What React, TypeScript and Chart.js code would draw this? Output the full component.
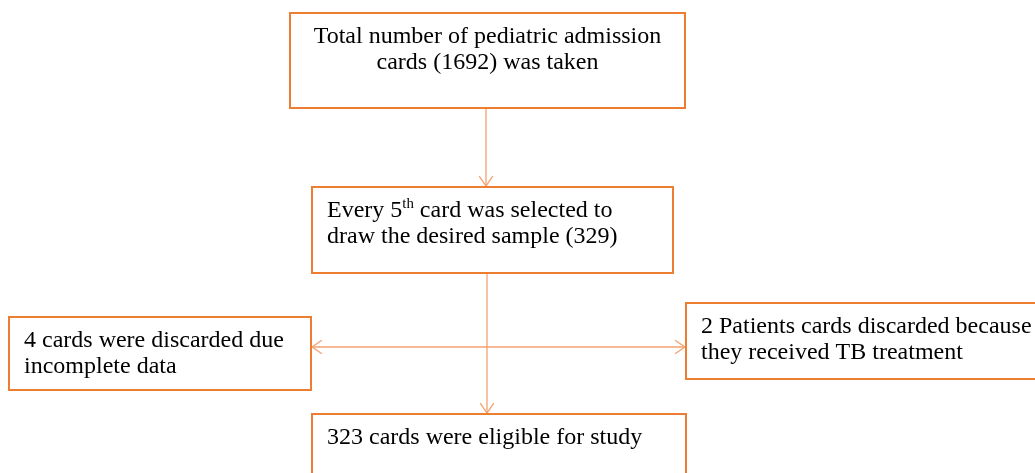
import React, { useEffect, useRef } from "react";
import { Chart, registerables } from "chart.js";

Chart.register(...registerables);

// Flowchart nodes (in chart units: x 0..1035, y 0..473 top-down)
const nodeNames = ["total", "every5", "discardLeft", "discardRight", "eligible"];
const nodeLeft = [290, 312, 9, 686, 312];
const nodeTop = [13, 187, 317, 303, 414];
const nodeRight = [685, 673, 311, 1045, 686];
const nodeBottom = [108, 273, 390, 379, 490];
const nodeAlign = ["center", "left", "left", "left", "left"];
const nodeLines: string[][] = [
  ["Total number of pediatric admission", "cards (1692) was taken"],
  ["Every 5^{th} card was selected to", "draw the desired sample (329)"],
  ["4 cards were discarded due", "incomplete data"],
  ["2 Patients cards discarded because", "they received TB treatment"],
  ["323 cards were eligible for study"],
];

// Connectors
const arrowX1 = [486, 487, 312];
const arrowY1 = [108, 273, 347];
const arrowX2 = [486, 487, 685];
const arrowY2 = [186, 413, 347];
const arrowStartHead = [false, false, true];
const arrowEndHead = [true, true, true];

const BOX_COLOR = "#ED7D31";
const ARROW_COLOR = "#F3A270";
const FONT_SIZE = 24;
const FONT_FAMILY = "'Liberation Serif', 'Times New Roman', serif";

type Seg = { text: string; sup: boolean };
function parseLine(s: string): Seg[] {
  const out: Seg[] = [];
  const re = /\^\{([^}]*)\}/g;
  let last = 0;
  let m: RegExpExecArray | null;
  while ((m = re.exec(s))) {
    if (m.index > last) out.push({ text: s.slice(last, m.index), sup: false });
    out.push({ text: m[1], sup: true });
    last = m.index + m[0].length;
  }
  if (last < s.length) out.push({ text: s.slice(last), sup: false });
  return out;
}

const flowPlugin = {
  id: "flow",
  afterDatasetsDraw(chart: any) {
    const ctx: CanvasRenderingContext2D = chart.ctx;
    const xs = chart.scales.x;
    const ys = chart.scales.y;
    const px = (v: number) => xs.getPixelForValue(v);
    const py = (v: number) => ys.getPixelForValue(v);
    ctx.save();
    ctx.strokeStyle = ARROW_COLOR;
    ctx.lineWidth = 1.3;
    for (let i = 0; i < arrowX1.length; i++) {
      const x1 = px(arrowX1[i]), y1 = py(arrowY1[i]);
      const x2 = px(arrowX2[i]), y2 = py(arrowY2[i]);
      ctx.beginPath();
      ctx.moveTo(x1, y1);
      ctx.lineTo(x2, y2);
      ctx.stroke();
      const head = (tx: number, ty: number, fx: number, fy: number) => {
        const ang = Math.atan2(ty - fy, tx - fx);
        const len = 12, spread = 0.6;
        ctx.beginPath();
        ctx.moveTo(tx - len * Math.cos(ang - spread), ty - len * Math.sin(ang - spread));
        ctx.lineTo(tx, ty);
        ctx.lineTo(tx - len * Math.cos(ang + spread), ty - len * Math.sin(ang + spread));
        ctx.stroke();
      };
      if (arrowEndHead[i]) head(x2, y2, x1, y1);
      if (arrowStartHead[i]) head(x1, y1, x2, y2);
    }
    for (let i = 0; i < nodeNames.length; i++) {
      const l = px(nodeLeft[i]), r = px(nodeRight[i]);
      const t = py(nodeTop[i]), b = py(nodeBottom[i]);
      ctx.fillStyle = "#ffffff";
      ctx.fillRect(l, t, r - l, b - t);
      ctx.strokeStyle = BOX_COLOR;
      ctx.lineWidth = 2;
      ctx.strokeRect(l, t, r - l, b - t);
      ctx.fillStyle = "#000000";
      ctx.textBaseline = "alphabetic";
      ctx.textAlign = "left";
      const lines = nodeLines[i];
      lines.forEach((line, j) => {
        const segs = parseLine(line);
        const widths = segs.map((s) => {
          ctx.font = `${s.sup ? FONT_SIZE * 0.62 : FONT_SIZE}px ${FONT_FAMILY}`;
          return ctx.measureText(s.text).width;
        });
        const total = widths.reduce((a, c) => a + c, 0);
        let x = nodeAlign[i] === "center" ? (l + r) / 2 - total / 2 : l + 15;
        const baseY = t + 30 + j * 26;
        segs.forEach((s, k) => {
          ctx.font = `${s.sup ? FONT_SIZE * 0.62 : FONT_SIZE}px ${FONT_FAMILY}`;
          ctx.fillText(s.text, x, s.sup ? baseY - 9 : baseY);
          x += widths[k];
        });
      });
    }
    ctx.restore();
  },
};

export default function App() {
  const ref = useRef<HTMLCanvasElement | null>(null);
  useEffect(() => {
    if (!ref.current) return;
    const chart = new Chart(ref.current, {
      type: "scatter",
      data: {
        datasets: [
          {
            label: "nodes",
            data: nodeNames.map((_, i) => ({
              x: (nodeLeft[i] + nodeRight[i]) / 2,
              y: (nodeTop[i] + nodeBottom[i]) / 2,
            })),
            pointRadius: 0,
            pointHoverRadius: 0,
          },
        ],
      },
      options: {
        responsive: false,
        animation: false,
        devicePixelRatio: 1,
        layout: { padding: 0 },
        plugins: { legend: { display: false }, tooltip: { enabled: false } },
        events: [],
        scales: {
          x: { type: "linear", min: 0, max: 1035, display: false },
          y: { type: "linear", min: 0, max: 473, reverse: true, display: false },
        },
      },
      plugins: [flowPlugin],
    });
    return () => chart.destroy();
  }, []);
  return (
    <div style={{ position: "fixed", left: 0, top: 0, width: 1035, height: 473, background: "#fff" }}>
      <canvas ref={ref} width={1035} height={473} style={{ display: "block" }} />
    </div>
  );
}
